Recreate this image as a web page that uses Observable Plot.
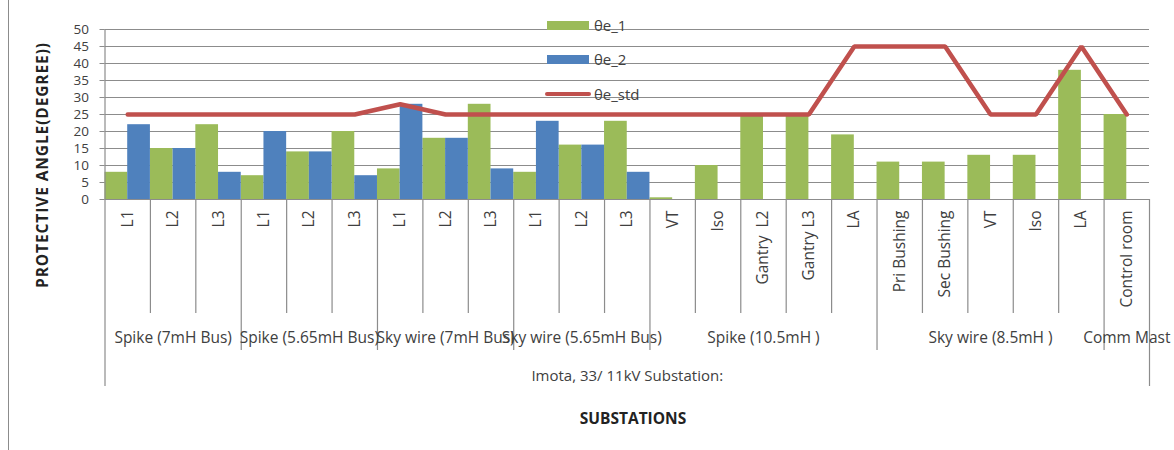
<!DOCTYPE html>
<html>
<head>
<meta charset="utf-8">
<script src="https://cdn.jsdelivr.net/npm/d3@7"></script>
<script src="https://cdn.jsdelivr.net/npm/@observablehq/plot@0.6"></script>
<style>
  body { margin: 0; background: #fff; }
  #wrap { position: relative; width: 1174px; height: 450px; font-family: "Open Sans", sans-serif; color: #404040; overflow: hidden; }
  #frame { position: absolute; left: 8px; top: 0; width: 0; height: 450px; border-left: 1px solid #8c8c8c; }
  .leg { position: absolute; left: 545px; font-size: 15px; color: #404040; display: flex; align-items: center; }
  .sw { width: 42px; height: 9px; margin-right: 5px; }
  .ln { width: 46px; height: 4px; margin-right: 3px; border-radius: 2px; }
</style>
</head>
<body>
<div id="wrap"><div id="frame"></div></div>
<script>
// ---- data ----
const categories = ["L1","L2","L3","L1","L2","L3","L1","L2","L3","L1","L2","L3",
  "VT","Iso","Gantry  L2","Gantry L3","LA","Pri Bushing","Sec Bushing","VT","Iso","LA","Control room"];
const theta1 = [8,15,22,7,14,20,9,18,28,8,16,23,0.5,10,25,25,19,11,11,13,13,38,25];
const theta2 = [22,15,8,20,14,7,28,18,9,23,16,8,null,null,null,null,null,null,null,null,null,null,null];
const thetaStd = [25,25,25,25,25,25,28,25,25,25,25,25,25,25,25,25,45,45,45,25,25,45,25];
const groups = ["Spike (7mH Bus)","Spike (5.65mH Bus)","Sky wire (7mH Bus)","Sky wire (5.65mH Bus)","Spike (10.5mH )","Sky wire (8.5mH )","Comm Mast"];
const groupSizes = [3,3,3,3,5,5,1];
const outerLabel = "Imota, 33/ 11kV Substation:";
const yTicks = [0,5,10,15,20,25,30,35,40,45,50];
const seriesNames = ["θe_1","θe_2","θe_std"];
const colors = ["#9BBB59","#4F81BD","#C0504D"];

// ---- derived ----
const n = categories.length;
const rows = categories.map((c, i) => ({i, c, t1: theta1[i], t2: theta2[i], std: thetaStd[i]}));
const groupStarts = [];
let acc = 0;
for (const s of groupSizes) { groupStarts.push(acc); acc += s; }
const groupCenters = groupStarts.map((s, k) => s + groupSizes[k] / 2);
const groupBounds = groupStarts.slice(1);
const catBounds = d3.range(1, n).filter(b => !groupBounds.includes(b));
const centerLabel = new Map(rows.map(d => [d.i + 0.5, d.c]));
const groupLabel = new Map(groupCenters.map((c, k) => [c, groups[k]]));
const outerLabelMap = new Map([[n / 2, outerLabel]]);
const gray = "#8c8c8c";

const chart = Plot.plot({
  width: 1174,
  height: 450,
  marginLeft: 104.5,
  marginRight: 25,
  marginTop: 29,
  marginBottom: 251,
  style: {fontFamily: "'Open Sans', sans-serif", fontSize: "15px", color: "#404040", background: "transparent", overflow: "visible"},
  x: {type: "linear", domain: [0, n]},
  y: {domain: [0, 50]},
  marks: [
    Plot.gridY(yTicks, {stroke: gray, strokeOpacity: 1, strokeWidth: 1.2}),
    Plot.rectY(rows.filter(d => d.t1 != null), {x1: "i", x2: d => d.i + 0.5, y: "t1", fill: colors[0]}),
    Plot.rectY(rows.filter(d => d.t2 != null), {x1: d => d.i + 0.5, x2: d => d.i + 1, y: "t2", fill: colors[1]}),
    Plot.lineY(rows, {x: d => d.i + 0.5, y: "std", stroke: colors[2], strokeWidth: 4.5, strokeLinejoin: "miter"}),
    Plot.ruleX([0], {stroke: gray, strokeWidth: 1.2}),
    Plot.axisY(yTicks, {tickSize: 5, tickPadding: 11, stroke: gray, label: null, fontSize: 13.5}),
    Plot.axisX(catBounds, {tickSize: 114, tickFormat: () => "", stroke: gray, strokeWidth: 1.2, label: null}),
    Plot.axisX(groupBounds, {tickSize: 151, tickFormat: () => "", stroke: gray, strokeWidth: 1.2, label: null}),
    Plot.axisX([0, n], {tickSize: 187, tickFormat: () => "", stroke: gray, strokeWidth: 1.2, label: null}),
    Plot.axisX(rows.map(d => d.i + 0.5), {tickSize: 0, tickRotate: -90, tickPadding: 11, tickFormat: d => centerLabel.get(d), label: null, fontSize: 15.5}),
    Plot.axisX(groupCenters, {tickSize: 0, tickPadding: 132, tickFormat: d => groupLabel.get(d), label: null, fontSize: 15.5}),
    Plot.axisX([n / 2], {tickSize: 0, tickPadding: 171, tickFormat: d => outerLabelMap.get(d), label: null, fontSize: 15})
  ]
});

const wrap = document.getElementById("wrap");
chart.style.position = "absolute";
chart.style.left = "0px";
chart.style.top = "0px";
wrap.appendChild(chart);

const svg = d3.select(chart);
svg.append("text")
  .attr("transform", "translate(42,165) rotate(-90)")
  .attr("text-anchor", "middle")
  .attr("dominant-baseline", "central")
  .attr("font-weight", "bold")
  .attr("font-size", 15.5)
  .attr("letter-spacing", "0.9px")
  .attr("fill", "#222")
  .text("PROTECTIVE ANGLE(DEGREE))");
svg.append("text")
  .attr("x", 633).attr("y", 418)
  .attr("text-anchor", "middle")
  .attr("dominant-baseline", "central")
  .attr("font-weight", "bold")
  .attr("font-size", 15.5)
  .attr("fill", "#222")
  .text("SUBSTATIONS");

// legend
const legTops = [15, 49, 84];
seriesNames.forEach((name, k) => {
  const item = document.createElement("div");
  item.className = "leg";
  item.style.top = legTops[k] + "px";
  const sw = document.createElement("div");
  sw.className = k < 2 ? "sw" : "ln";
  sw.style.background = colors[k];
  if (k < 2) sw.style.marginLeft = "2px";
  const tx = document.createElement("span");
  tx.textContent = name;
  item.appendChild(sw);
  item.appendChild(tx);
  wrap.appendChild(item);
});
</script>
</body>
</html>
